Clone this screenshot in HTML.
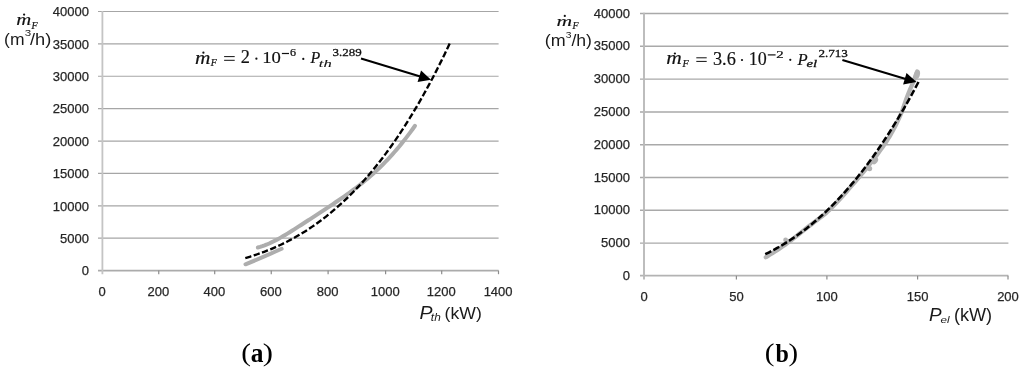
<!DOCTYPE html>
<html><head><meta charset="utf-8"><style>
html,body{margin:0;padding:0;background:#fff;}
body{width:1024px;height:372px;overflow:hidden;position:relative;}
svg{position:absolute;left:0;top:0;filter:grayscale(1);}
.tl{font-family:"Liberation Sans",sans-serif;font-size:13px;fill:#262626;stroke:#262626;stroke-width:0.25px;}
</style></head><body>
<svg width="1024" height="372" viewBox="0 0 1024 372">
<line x1="98" y1="238.21" x2="498.6" y2="238.21" stroke="#a6a6a6" stroke-width="1.2"/>
<line x1="98" y1="205.82" x2="498.6" y2="205.82" stroke="#a6a6a6" stroke-width="1.2"/>
<line x1="98" y1="173.43" x2="498.6" y2="173.43" stroke="#a6a6a6" stroke-width="1.2"/>
<line x1="98" y1="141.04" x2="498.6" y2="141.04" stroke="#a6a6a6" stroke-width="1.2"/>
<line x1="98" y1="108.65" x2="498.6" y2="108.65" stroke="#a6a6a6" stroke-width="1.2"/>
<line x1="98" y1="76.26" x2="498.6" y2="76.26" stroke="#a6a6a6" stroke-width="1.2"/>
<line x1="98" y1="43.87" x2="498.6" y2="43.87" stroke="#a6a6a6" stroke-width="1.2"/>
<line x1="98" y1="11.48" x2="498.6" y2="11.48" stroke="#a6a6a6" stroke-width="1.2"/>
<line x1="98" y1="270.60" x2="498.6" y2="270.60" stroke="#ababab" stroke-width="1.6"/>
<line x1="102.40" y1="10.88" x2="102.40" y2="274.2" stroke="#c4c4c4" stroke-width="1.8"/>
<line x1="158.75" y1="270.60" x2="158.75" y2="274.2" stroke="#8c8c8c" stroke-width="1.2"/>
<line x1="214.70" y1="270.60" x2="214.70" y2="274.2" stroke="#8c8c8c" stroke-width="1.2"/>
<line x1="271.25" y1="270.60" x2="271.25" y2="274.2" stroke="#8c8c8c" stroke-width="1.2"/>
<line x1="328.10" y1="270.60" x2="328.10" y2="274.2" stroke="#8c8c8c" stroke-width="1.2"/>
<line x1="385.60" y1="270.60" x2="385.60" y2="274.2" stroke="#8c8c8c" stroke-width="1.2"/>
<line x1="441.70" y1="270.60" x2="441.70" y2="274.2" stroke="#8c8c8c" stroke-width="1.2"/>
<line x1="498.50" y1="270.60" x2="498.50" y2="274.2" stroke="#8c8c8c" stroke-width="1.2"/>
<text x="89" y="275.30" class="tl" text-anchor="end">0</text>
<text x="89" y="242.91" class="tl" text-anchor="end">5000</text>
<text x="89" y="210.52" class="tl" text-anchor="end">10000</text>
<text x="89" y="178.13" class="tl" text-anchor="end">15000</text>
<text x="89" y="145.74" class="tl" text-anchor="end">20000</text>
<text x="89" y="113.35" class="tl" text-anchor="end">25000</text>
<text x="89" y="80.96" class="tl" text-anchor="end">30000</text>
<text x="89" y="48.57" class="tl" text-anchor="end">35000</text>
<text x="89" y="16.18" class="tl" text-anchor="end">40000</text>
<text x="102.00" y="295.7" class="tl" text-anchor="middle">0</text>
<text x="158.35" y="295.7" class="tl" text-anchor="middle">200</text>
<text x="214.30" y="295.7" class="tl" text-anchor="middle">400</text>
<text x="270.85" y="295.7" class="tl" text-anchor="middle">600</text>
<text x="327.70" y="295.7" class="tl" text-anchor="middle">800</text>
<text x="385.20" y="295.7" class="tl" text-anchor="middle">1000</text>
<text x="441.30" y="295.7" class="tl" text-anchor="middle">1200</text>
<text x="498.10" y="295.7" class="tl" text-anchor="middle">1400</text>
<path d="M245.5,264.3 Q263,257.2 281.6,248.8" fill="none" stroke="#adadad" stroke-width="4.0" stroke-linecap="round"/>
<path d="M257.80,247.55 L260.08,246.93 L262.36,246.21 L264.63,245.39 L266.91,244.48 L269.19,243.49 L271.47,242.43 L273.75,241.31 L276.03,240.13 L278.30,238.90 L280.58,237.62 L282.86,236.31 L285.14,234.97 L287.42,233.59 L289.70,232.20 L291.97,230.78 L294.25,229.35 L296.53,227.90 L298.81,226.44 L301.09,224.97 L303.37,223.50 L305.64,222.02 L307.92,220.54 L310.20,219.05 L312.48,217.57 L314.76,216.08 L317.03,214.59 L319.31,213.10 L321.59,211.60 L323.87,210.10 L326.15,208.60 L328.43,207.10 L330.70,205.58 L332.98,204.06 L335.26,202.53 L337.54,200.99 L339.82,199.44 L342.10,197.87 L344.37,196.28 L346.65,194.68 L348.93,193.05 L351.21,191.39 L353.49,189.71 L355.77,188.00 L358.04,186.26 L360.32,184.49 L362.60,182.67 L364.88,180.82 L367.16,178.92 L369.43,176.98 L371.71,175.00 L373.99,172.96 L376.27,170.87 L378.55,168.72 L380.83,166.52 L383.10,164.26 L385.38,161.94 L387.66,159.56 L389.94,157.12 L392.22,154.61 L394.50,152.03 L396.77,149.39 L399.05,146.68 L401.33,143.89 L403.61,141.05 L405.89,138.13 L408.17,135.14 L410.44,132.08 L412.72,128.96 L415.00,125.77" fill="none" stroke="#adadad" stroke-width="4.0" stroke-linecap="round"/>
<path d="M449.67,43.60 L447.96,47.24 L446.24,50.84 L444.52,54.40 L442.80,57.91 L441.09,61.39 L439.37,64.83 L437.65,68.23 L435.93,71.59 L434.22,74.91 L432.50,78.19 L430.78,81.44 L429.06,84.64 L427.35,87.81 L425.63,90.94 L423.91,94.04 L422.19,97.09 L420.48,100.11 L418.76,103.10 L417.04,106.04 L415.32,108.95 L413.61,111.83 L411.89,114.66 L410.17,117.47 L408.45,120.24 L406.74,122.97 L405.02,125.67 L403.30,128.33 L401.59,130.96 L399.87,133.56 L398.15,136.12 L396.43,138.65 L394.72,141.15 L393.00,143.61 L391.28,146.04 L389.56,148.44 L387.85,150.80 L386.13,153.14 L384.41,155.44 L382.69,157.71 L380.98,159.95 L379.26,162.16 L377.54,164.33 L375.82,166.48 L374.11,168.60 L372.39,170.69 L370.67,172.74 L368.95,174.77 L367.24,176.77 L365.52,178.74 L363.80,180.68 L362.08,182.59 L360.37,184.47 L358.65,186.33 L356.93,188.16 L355.21,189.96 L353.50,191.73 L351.78,193.47 L350.06,195.19 L348.35,196.88 L346.63,198.55 L344.91,200.19 L343.19,201.80 L341.48,203.39 L339.76,204.95 L338.04,206.48 L336.32,207.99 L334.61,209.48 L332.89,210.94 L331.17,212.38 L329.45,213.79 L327.74,215.18 L326.02,216.55 L324.30,217.89 L322.58,219.21 L320.87,220.50 L319.15,221.77 L317.43,223.02 L315.71,224.25 L314.00,225.46 L312.28,226.64 L310.56,227.80 L308.84,228.94 L307.13,230.06 L305.41,231.16 L303.69,232.24 L301.97,233.29 L300.26,234.33 L298.54,235.35 L296.82,236.34 L295.11,237.32 L293.39,238.28 L291.67,239.21 L289.95,240.13 L288.24,241.03 L286.52,241.92 L284.80,242.78 L283.08,243.62 L281.37,244.45 L279.65,245.26 L277.93,246.05 L276.21,246.83 L274.50,247.58 L272.78,248.32 L271.06,249.05 L269.34,249.75 L267.63,250.45 L265.91,251.12 L264.19,251.78 L262.47,252.42 L260.76,253.05 L259.04,253.66 L257.32,254.26 L255.60,254.84 L253.89,255.41 L252.17,255.97 L250.45,256.51 L248.73,257.03 L247.02,257.55 L245.30,258.04" fill="none" stroke="#000" stroke-width="2.35" stroke-dasharray="6.307 2.503"/>
<line x1="361.00" y1="58.60" x2="420.28" y2="76.47" stroke="#000" stroke-width="2.1"/><path d="M431.00,79.70 L417.59,81.92 L421.05,70.43 Z" fill="#000"/>
<line x1="640" y1="243.10" x2="1008.4" y2="243.10" stroke="#a9a9a9" stroke-width="1.45"/>
<line x1="640" y1="210.30" x2="1008.4" y2="210.30" stroke="#a9a9a9" stroke-width="1.45"/>
<line x1="640" y1="177.50" x2="1008.4" y2="177.50" stroke="#a9a9a9" stroke-width="1.45"/>
<line x1="640" y1="144.70" x2="1008.4" y2="144.70" stroke="#a9a9a9" stroke-width="1.45"/>
<line x1="640" y1="111.90" x2="1008.4" y2="111.90" stroke="#a9a9a9" stroke-width="1.45"/>
<line x1="640" y1="79.10" x2="1008.4" y2="79.10" stroke="#a9a9a9" stroke-width="1.45"/>
<line x1="640" y1="46.30" x2="1008.4" y2="46.30" stroke="#a9a9a9" stroke-width="1.45"/>
<line x1="640" y1="13.50" x2="1008.4" y2="13.50" stroke="#a9a9a9" stroke-width="1.45"/>
<line x1="640" y1="275.70" x2="1008.4" y2="275.70" stroke="#b3b3b3" stroke-width="1.8"/>
<line x1="644.00" y1="12.70" x2="644.00" y2="279.5" stroke="#bababa" stroke-width="1.9"/>
<line x1="736.40" y1="275.70" x2="736.40" y2="279.5" stroke="#8c8c8c" stroke-width="1.2"/>
<line x1="826.90" y1="275.70" x2="826.90" y2="279.5" stroke="#8c8c8c" stroke-width="1.2"/>
<line x1="917.60" y1="275.70" x2="917.60" y2="279.5" stroke="#8c8c8c" stroke-width="1.2"/>
<line x1="1008.00" y1="275.70" x2="1008.00" y2="279.5" stroke="#8c8c8c" stroke-width="1.2"/>
<text x="630" y="279.90" class="tl" text-anchor="end">0</text>
<text x="630" y="247.10" class="tl" text-anchor="end">5000</text>
<text x="630" y="214.30" class="tl" text-anchor="end">10000</text>
<text x="630" y="181.50" class="tl" text-anchor="end">15000</text>
<text x="630" y="148.70" class="tl" text-anchor="end">20000</text>
<text x="630" y="115.90" class="tl" text-anchor="end">25000</text>
<text x="630" y="83.10" class="tl" text-anchor="end">30000</text>
<text x="630" y="50.30" class="tl" text-anchor="end">35000</text>
<text x="630" y="17.50" class="tl" text-anchor="end">40000</text>
<text x="644.00" y="301.1" class="tl" text-anchor="middle">0</text>
<text x="736.40" y="301.1" class="tl" text-anchor="middle">50</text>
<text x="826.90" y="301.1" class="tl" text-anchor="middle">100</text>
<text x="917.60" y="301.1" class="tl" text-anchor="middle">150</text>
<text x="1008.00" y="301.1" class="tl" text-anchor="middle">200</text>
<path d="M765.80,257.30 L766.12,257.10 L766.75,256.70 L767.69,256.10 L768.96,255.30 L770.53,254.30 L772.43,253.10 L774.64,251.70 L777.16,250.10 L779.76,248.39 L782.44,246.56 L785.19,244.62 L788.01,242.58 L790.91,240.41 L793.89,238.14 L796.94,235.75 L800.06,233.25 L803.09,230.84 L806.03,228.53 L808.88,226.31 L811.62,224.19 L814.28,222.16 L816.84,220.22 L819.31,218.38 L821.69,216.62 L824.21,214.59 L826.88,212.26 L829.70,209.64 L832.67,206.73 L835.79,203.54 L839.05,200.05 L842.47,196.28 L846.03,192.22 L849.33,188.45 L852.36,184.96 L855.12,181.77 L857.62,178.86 L859.86,176.24 L861.83,173.91 L863.53,171.88 L864.97,170.12 L866.45,168.30 L867.96,166.41 L869.52,164.45 L871.11,162.42 L872.74,160.32 L874.41,158.15 L876.12,155.91 L877.88,153.59 L879.55,151.33 L881.16,149.11 L882.70,146.94 L884.17,144.81 L885.57,142.73 L886.90,140.70 L888.16,138.72 L889.34,136.78 L890.52,134.80 L891.68,132.77 L892.83,130.69 L893.97,128.56 L895.09,126.39 L896.21,124.17 L897.31,121.91 L898.39,119.59 L899.39,117.42 L900.30,115.39 L901.12,113.49 L901.85,111.73 L902.50,110.12 L903.05,108.64 L903.51,107.30 L903.89,106.10 L904.28,104.88 L904.69,103.64 L905.12,102.39 L905.56,101.11 L906.02,99.82 L906.50,98.51 L906.99,97.17 L907.51,95.83 L908.00,94.53 L908.49,93.30 L908.96,92.12 L909.42,91.00 L909.86,89.94 L910.29,88.94 L910.70,87.99 L911.10,87.11 L911.50,86.20 L911.89,85.29 L912.28,84.36 L912.67,83.42 L913.05,82.46 L913.43,81.49 L913.81,80.50 L914.19,79.50 L914.54,78.55 L914.88,77.66 L915.19,76.83 L915.48,76.05 L915.76,75.32 L916.01,74.65 L916.24,74.03 L916.46,73.47 L916.64,72.98 L916.80,72.55 L916.93,72.20 L917.04,71.92 L917.12,71.71 L917.17,71.57 L917.20,71.50" fill="none" stroke="#b3b3b3" stroke-width="4.3" stroke-linecap="round" stroke-linejoin="round"/>
<ellipse cx="916.9" cy="74.5" rx="3.0" ry="4.6" transform="rotate(15 916.9 74.5)" fill="#b3b3b3"/>
<circle cx="785.6" cy="240" r="2.4" fill="#b3b3b3"/>
<ellipse cx="874.6" cy="160.5" rx="3.2" ry="4" transform="rotate(35 874.6 160.5)" fill="#b3b3b3"/>
<circle cx="869.6" cy="168.6" r="2.6" fill="#b3b3b3"/>
<path d="M918.48,82.02 L916.75,85.27 L915.03,88.49 L913.31,91.67 L911.59,94.82 L909.86,97.94 L908.14,101.02 L906.42,104.06 L904.70,107.08 L902.98,110.06 L901.25,113.00 L899.53,115.92 L897.81,118.80 L896.09,121.64 L894.37,124.46 L892.64,127.24 L890.92,129.99 L889.20,132.71 L887.48,135.39 L885.76,138.05 L884.03,140.67 L882.31,143.26 L880.59,145.82 L878.87,148.34 L877.15,150.84 L875.42,153.31 L873.70,155.74 L871.98,158.14 L870.26,160.52 L868.53,162.86 L866.81,165.17 L865.09,167.46 L863.37,169.71 L861.65,171.93 L859.92,174.13 L858.20,176.29 L856.48,178.43 L854.76,180.53 L853.04,182.61 L851.31,184.66 L849.59,186.68 L847.87,188.67 L846.15,190.63 L844.43,192.57 L842.70,194.47 L840.98,196.35 L839.26,198.21 L837.54,200.03 L835.81,201.83 L834.09,203.60 L832.37,205.34 L830.65,207.06 L828.93,208.75 L827.20,210.41 L825.48,212.05 L823.76,213.66 L822.04,215.25 L820.32,216.81 L818.59,218.34 L816.87,219.85 L815.15,221.33 L813.43,222.79 L811.71,224.23 L809.98,225.63 L808.26,227.02 L806.54,228.38 L804.82,229.72 L803.09,231.03 L801.37,232.32 L799.65,233.58 L797.93,234.82 L796.21,236.04 L794.48,237.24 L792.76,238.41 L791.04,239.56 L789.32,240.69 L787.60,241.79 L785.87,242.87 L784.15,243.93 L782.43,244.97 L780.71,245.99 L778.99,246.99 L777.26,247.96 L775.54,248.91 L773.82,249.85 L772.10,250.76 L770.38,251.65 L768.65,252.52 L766.93,253.37 L765.21,254.20" fill="none" stroke="#000" stroke-width="2.55" stroke-dasharray="6.680 2.429"/>
<line x1="842.40" y1="60.10" x2="905.76" y2="78.91" stroke="#000" stroke-width="2.1"/><path d="M916.50,82.10 L903.10,84.38 L906.51,72.88 Z" fill="#000"/>
<text transform="translate(419.60,319.40) scale(1.149,1.060)" font-family='"Liberation Sans",sans-serif' font-size="17" font-style="italic" fill="#1a1a1a">P</text>
<text transform="translate(430.86,321.18) scale(1.077,1.077)" font-family='"Liberation Sans",sans-serif' font-size="11" font-style="italic" fill="#1a1a1a">th</text>
<text transform="translate(444.61,318.89) scale(1.037,0.998)" font-family='"Liberation Sans",sans-serif' font-size="17" fill="#1a1a1a">(kW)</text>
<text transform="translate(928.92,321.40) scale(1.111,1.060)" font-family='"Liberation Sans",sans-serif' font-size="17" font-style="italic" fill="#1a1a1a">P</text>
<text transform="translate(940.51,323.20) scale(1.055,0.904)" font-family='"Liberation Sans",sans-serif' font-size="11" font-style="italic" fill="#1a1a1a">el</text>
<text transform="translate(953.88,321.06) scale(1.066,1.035)" font-family='"Liberation Sans",sans-serif' font-size="17" fill="#1a1a1a">(kW)</text>
<text transform="translate(4.11,44.62) scale(1.031,1.017)" font-family='"Liberation Sans",sans-serif' font-size="17" fill="#1a1a1a">(m</text>
<text transform="translate(24.76,36.41) scale(1.055,0.860)" font-family='"Liberation Sans",sans-serif' font-size="11" fill="#1a1a1a">3</text>
<text transform="translate(30.00,44.62) scale(1.075,1.017)" font-family='"Liberation Sans",sans-serif' font-size="17" fill="#1a1a1a">/h)</text>
<text transform="translate(544.79,45.91) scale(1.054,0.991)" font-family='"Liberation Sans",sans-serif' font-size="17" fill="#1a1a1a">(m</text>
<text transform="translate(565.81,37.81) scale(0.940,0.860)" font-family='"Liberation Sans",sans-serif' font-size="11" fill="#1a1a1a">3</text>
<text transform="translate(571.40,45.91) scale(1.038,0.991)" font-family='"Liberation Sans",sans-serif' font-size="17" fill="#1a1a1a">/h)</text>
<text transform="translate(16.13,25.32) scale(1.296,1.001)" font-family='"Liberation Serif",serif' font-size="16" font-style="italic" fill="#111111" stroke="#111111" stroke-width="0.15">m</text>
<circle cx="24.10" cy="14.60" r="1.12" fill="#111111"/>
<text transform="translate(31.48,28.88) scale(0.910,0.993)" font-family='"Liberation Serif",serif' font-size="11" font-style="italic" fill="#111111" stroke="#111111" stroke-width="0.25">F</text>
<text transform="translate(556.49,26.03) scale(1.354,0.962)" font-family='"Liberation Serif",serif' font-size="16" font-style="italic" fill="#111111" stroke="#111111" stroke-width="0.15">m</text>
<circle cx="564.80" cy="15.90" r="1.12" fill="#111111"/>
<text transform="translate(572.48,29.48) scale(0.895,0.882)" font-family='"Liberation Serif",serif' font-size="11" font-style="italic" fill="#111111" stroke="#111111" stroke-width="0.25">F</text>
<text transform="translate(195.00,63.72) scale(1.334,1.227)" font-family='"Liberation Serif",serif' font-size="16" font-style="italic" fill="#111111" stroke="#111111" stroke-width="0.15">m</text>
<circle cx="203.40" cy="52.70" r="1.12" fill="#111111"/>
<text transform="translate(210.68,66.38) scale(0.910,0.993)" font-family='"Liberation Serif",serif' font-size="11" font-style="italic" fill="#111111" stroke="#111111" stroke-width="0.25">F</text>
<rect x="224.10" y="56.10" width="10.60" height="1.00" fill="#111111"/>
<rect x="224.10" y="59.80" width="10.60" height="1.00" fill="#111111"/>
<text transform="translate(240.77,63.32) scale(1.146,1.119)" font-family='"Liberation Serif",serif' font-size="16" fill="#111111" stroke="#111111" stroke-width="0.15">2</text>
<circle cx="256.40" cy="58.70" r="1.12" fill="#111111"/>
<text transform="translate(262.23,63.25) scale(1.169,1.107)" font-family='"Liberation Serif",serif' font-size="16" fill="#111111" stroke="#111111" stroke-width="0.15">10</text>
<rect x="281.90" y="52.90" width="7.10" height="1.20" fill="#111111"/>
<text transform="translate(289.91,56.38) scale(1.096,0.927)" font-family='"Liberation Serif",serif' font-size="11" fill="#111111" stroke="#111111" stroke-width="0.25">6</text>
<circle cx="303.30" cy="58.90" r="1.12" fill="#111111"/>
<text transform="translate(310.56,63.42) scale(1.000,1.102)" font-family='"Liberation Serif",serif' font-size="16" font-style="italic" fill="#111111" stroke="#111111" stroke-width="0.15">P</text>
<text transform="translate(318.82,66.65) scale(1.510,0.956)" font-family='"Liberation Serif",serif' font-size="11" font-style="italic" fill="#111111" stroke="#111111" stroke-width="0.10">th</text>
<text transform="translate(332.53,55.60) scale(1.178,0.964)" font-family='"Liberation Serif",serif' font-size="11" fill="#111111" stroke="#111111" stroke-width="0.30">3.289</text>
<text transform="translate(666.30,64.42) scale(1.344,1.187)" font-family='"Liberation Serif",serif' font-size="16" font-style="italic" fill="#111111" stroke="#111111" stroke-width="0.15">m</text>
<circle cx="674.90" cy="53.50" r="1.12" fill="#111111"/>
<text transform="translate(682.38,67.47) scale(0.939,0.993)" font-family='"Liberation Serif",serif' font-size="11" font-style="italic" fill="#111111" stroke="#111111" stroke-width="0.25">F</text>
<rect x="696.30" y="57.30" width="10.40" height="1.00" fill="#111111"/>
<rect x="696.30" y="60.90" width="10.40" height="1.00" fill="#111111"/>
<text transform="translate(712.95,64.57) scale(1.146,1.123)" font-family='"Liberation Serif",serif' font-size="16" fill="#111111" stroke="#111111" stroke-width="0.15">3.6</text>
<circle cx="742.00" cy="60.00" r="1.12" fill="#111111"/>
<text transform="translate(748.69,64.65) scale(1.126,1.125)" font-family='"Liberation Serif",serif' font-size="16" fill="#111111" stroke="#111111" stroke-width="0.15">10</text>
<rect x="767.80" y="54.30" width="7.80" height="1.20" fill="#111111"/>
<text transform="translate(776.27,57.98) scale(1.349,0.941)" font-family='"Liberation Serif",serif' font-size="11" fill="#111111" stroke="#111111" stroke-width="0.25">2</text>
<circle cx="790.30" cy="59.80" r="1.12" fill="#111111"/>
<text transform="translate(797.56,64.52) scale(1.042,1.102)" font-family='"Liberation Serif",serif' font-size="16" font-style="italic" fill="#111111" stroke="#111111" stroke-width="0.15">P</text>
<text transform="translate(806.49,67.34) scale(1.345,0.982)" font-family='"Liberation Serif",serif' font-size="11" font-style="italic" fill="#111111" stroke="#111111" stroke-width="0.30">el</text>
<text transform="translate(818.48,56.69) scale(1.187,1.008)" font-family='"Liberation Serif",serif' font-size="11" fill="#111111" stroke="#111111" stroke-width="0.30">2.713</text>
<text transform="translate(241.22,361.26) scale(1.123,1.001)" font-family='"Liberation Serif",serif' font-size="26" fill="#000">(</text>
<text transform="translate(250.78,361.64) scale(0.977,1.020)" font-family='"Liberation Serif",serif' font-size="26" font-weight="bold" fill="#000">a</text>
<text transform="translate(262.81,361.26) scale(1.183,1.001)" font-family='"Liberation Serif",serif' font-size="26" fill="#000">)</text>
<text transform="translate(764.82,361.26) scale(1.123,1.001)" font-family='"Liberation Serif",serif' font-size="26" fill="#000">(</text>
<text transform="translate(775.59,361.65) scale(0.925,0.978)" font-family='"Liberation Serif",serif' font-size="26" font-weight="bold" fill="#000">b</text>
<text transform="translate(788.47,361.26) scale(1.108,1.001)" font-family='"Liberation Serif",serif' font-size="26" fill="#000">)</text>
</svg>
</body></html>
